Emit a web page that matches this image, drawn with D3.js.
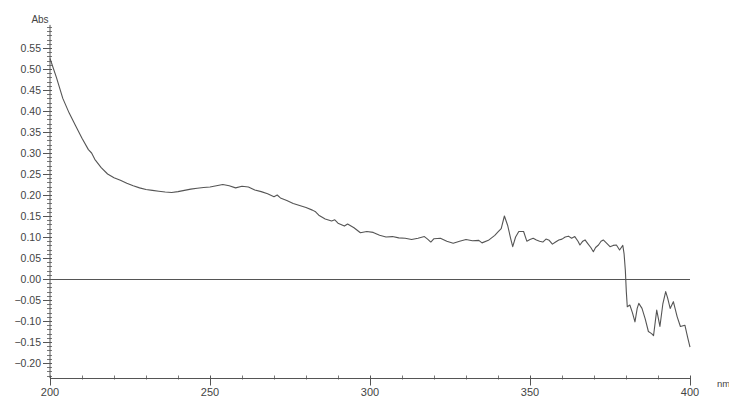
<!DOCTYPE html>
<html>
<head>
<meta charset="utf-8">
<script src="https://cdn.jsdelivr.net/npm/d3@7"></script>
<style>
  html, body { margin: 0; padding: 0; background: #fff; }
  svg { display: block; font-family: "Liberation Sans", Arial, sans-serif; }
</style>
</head>
<body>
<svg id="chart" width="729" height="398"></svg>
<script>
// UV absorbance spectrum (wavelength in nm, absorbance)
const wavelengths = [
  200,202,204,206,208,210,212,213,214,216,218,220,222,224,226,228,230,232,234,236,238,
  240,242,244,246,248,250,252,254,256,258,260,262,264,266,268,270,271,272,274,276,
  278,280,282,283,284,286,288,289,290,292,293,295,297,299,301,303,305,307,309,311,313,315,
  317,318,319,320,322,324,326,328,330,332,334,335,337,339,340,341,342,343,344,344.6,
  345.5,346.5,348,349,350,351,352,353,354,355,356,357,358,359,360,361,362,363,364,365,
  365.6,366.5,367.2,368,369,369.8,370.5,371.4,372.2,372.9,374,375,376,377,378,379,379.4,379.8,380.1,380.4,
  381.2,382,382.8,383.5,384,385,386,387,388,388.6,389.6,390.6,391.5,392.4,393,393.8,394.8,396,397,398.4,
  399.3,400
];
const absorbance = [
  0.525,0.48,0.43,0.395,0.365,0.335,0.308,0.3,0.285,0.265,0.25,0.241,0.235,0.228,0.222,0.217,0.213,0.211,0.209,0.207,0.206,
  0.208,0.211,0.214,0.216,0.218,0.219,0.222,0.225,0.222,0.217,0.221,0.219,0.212,0.208,0.203,0.196,0.2,0.193,0.187,0.18,
  0.175,0.17,0.164,0.16,0.152,0.143,0.138,0.141,0.133,0.126,0.131,0.122,0.11,0.113,0.111,0.104,0.1,0.101,0.098,0.097,0.094,0.097,
  0.101,0.095,0.088,0.096,0.097,0.09,0.085,0.09,0.094,0.091,0.092,0.086,0.092,0.104,0.112,0.12,0.15,0.128,0.095,0.077,
  0.1,0.113,0.113,0.09,0.094,0.097,0.093,0.09,0.088,0.095,0.092,0.083,0.088,0.093,0.095,0.1,0.102,0.097,0.101,0.09,
  0.081,0.09,0.093,0.085,0.075,0.065,0.075,0.081,0.09,0.093,0.085,0.077,0.08,0.081,0.069,0.08,0.06,0.02,-0.03,-0.066,
  -0.062,-0.08,-0.102,-0.07,-0.058,-0.07,-0.095,-0.125,-0.13,-0.135,-0.074,-0.113,-0.06,-0.03,-0.045,-0.07,-0.054,-0.09,-0.113,-0.11,
  -0.14,-0.162
];
const xTickValues = [200, 250, 300, 350, 400];
const yTickValues = [-0.20,-0.15,-0.10,-0.05,0.00,0.05,0.10,0.15,0.20,0.25,0.30,0.35,0.40,0.45,0.50,0.55];

const svg = d3.select("#chart");
const axisColor = "#555";
const textColor = "#444";

const x = d3.scaleLinear().domain([200, 400]).range([50, 690]);
const y = d3.scaleLinear().domain([0, 0.55]).range([279, 48]);
const yMin = -0.236, yMax = 0.605;

// Y axis line
svg.append("line")
  .attr("x1", 50).attr("x2", 50)
  .attr("y1", y(yMax)).attr("y2", y(yMin))
  .attr("stroke", axisColor).attr("stroke-width", 1);

// Y minor ticks every 0.01
const yMinor = d3.range(-23, 61).map(i => i / 100);
svg.append("g").selectAll("line").data(yMinor).join("line")
  .attr("x1", 47).attr("x2", 52)
  .attr("y1", d => Math.round(y(d)) + 0.5).attr("y2", d => Math.round(y(d)) + 0.5)
  .attr("stroke", axisColor).attr("stroke-width", 0.8);

// Y major ticks and labels
const yg = svg.append("g");
yg.selectAll("line").data(yTickValues).join("line")
  .attr("x1", 43).attr("x2", 52)
  .attr("y1", d => Math.round(y(d)) + 0.5).attr("y2", d => Math.round(y(d)) + 0.5)
  .attr("stroke", axisColor).attr("stroke-width", 1);
yg.selectAll("text").data(yTickValues).join("text")
  .attr("x", 41).attr("y", d => y(d))
  .attr("dy", "0.35em")
  .attr("text-anchor", "end")
  .attr("font-size", 10.5)
  .attr("fill", textColor)
  .text(d => d3.format(".2f")(d));

svg.append("text")
  .attr("x", 40).attr("y", 23)
  .attr("text-anchor", "middle")
  .attr("font-size", 10)
  .attr("fill", textColor)
  .text("Abs");

// X axis line
const xAxisY = 378.5;
svg.append("line")
  .attr("x1", 50).attr("x2", 690)
  .attr("y1", xAxisY).attr("y2", xAxisY)
  .attr("stroke", axisColor).attr("stroke-width", 1);

// X minor ticks every 10 nm
const xMinor = d3.range(210, 400, 10).filter(v => v % 50 !== 0);
svg.append("g").selectAll("line").data(xMinor).join("line")
  .attr("x1", d => Math.round(x(d)) + 0.5).attr("x2", d => Math.round(x(d)) + 0.5)
  .attr("y1", xAxisY - 3).attr("y2", xAxisY + 1)
  .attr("stroke", axisColor).attr("stroke-width", 0.8);

// X major ticks and labels
const xg = svg.append("g");
xg.selectAll("line").data(xTickValues).join("line")
  .attr("x1", d => Math.round(x(d)) + 0.5).attr("x2", d => Math.round(x(d)) + 0.5)
  .attr("y1", xAxisY - 3).attr("y2", xAxisY + 7)
  .attr("stroke", axisColor).attr("stroke-width", 1);
xg.selectAll("text").data(xTickValues).join("text")
  .attr("x", d => x(d)).attr("y", 396)
  .attr("text-anchor", "middle")
  .attr("font-size", 11)
  .attr("fill", textColor)
  .text(d => d);

svg.append("text")
  .attr("x", 717).attr("y", 387)
  .attr("font-size", 9.5)
  .attr("fill", textColor)
  .text("nm");

// Zero baseline
svg.append("line")
  .attr("x1", 50).attr("x2", 690)
  .attr("y1", Math.round(y(0)) + 0.5).attr("y2", Math.round(y(0)) + 0.5)
  .attr("stroke", axisColor).attr("stroke-width", 1);

// Spectrum trace
const pts = wavelengths.map((w, i) => [w, absorbance[i]]);
svg.append("path")
  .datum(pts)
  .attr("fill", "none")
  .attr("stroke", "#555")
  .attr("stroke-width", 1.1)
  .attr("stroke-linejoin", "round")
  .attr("d", d3.line().x(d => x(d[0])).y(d => y(d[1])));
</script>
</body>
</html>
